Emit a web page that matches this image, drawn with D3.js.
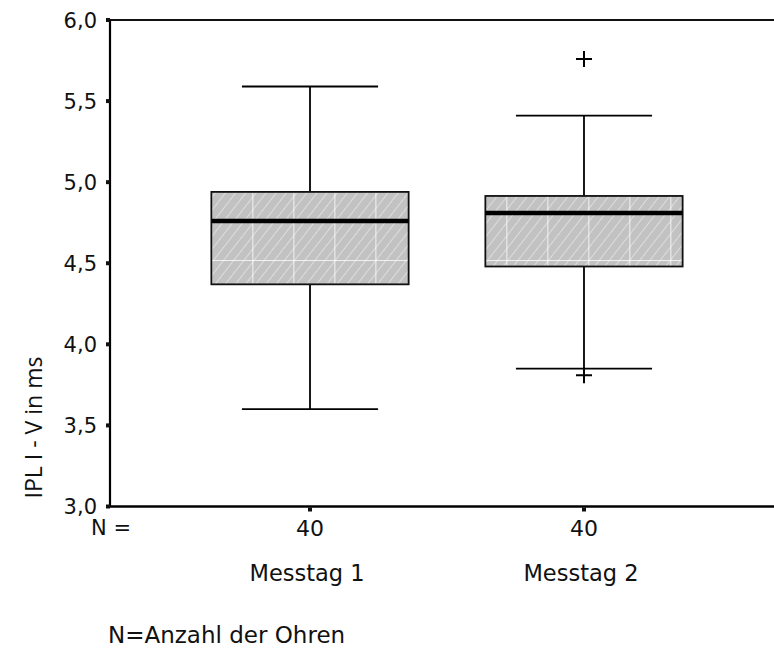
<!DOCTYPE html>
<html>
<head>
<meta charset="utf-8">
<script src="https://cdn.jsdelivr.net/npm/d3@7"></script>
<style>
  html, body { margin: 0; padding: 0; background: #fff; }
  svg { display: block; }
  .lbl { font-family: "DejaVu Sans", sans-serif; fill: #111; }
</style>
</head>
<body>
<svg id="chart" width="774" height="650"></svg>
<script>
// IPL I-V (ms) per measurement day
const categories = ["Messtag 1", "Messtag 2"];
const counts = [40, 40];
const whiskerLow  = [3.60, 3.85];
const q1          = [4.37, 4.48];
const medians     = [4.76, 4.81];
const q3          = [4.94, 4.915];
const whiskerHigh = [5.59, 5.41];
// outliers: [category index, value]
const outliers = [[1, 5.76], [1, 3.81]];
const yTicks = [3.0, 3.5, 4.0, 4.5, 5.0, 5.5, 6.0];
const gridPhase = [41, 21];

const svg = d3.select("#chart");
const W = 774;
const plotL = 110, plotT = 20, plotB = 506.5, plotR = 784;

const y = d3.scaleLinear().domain([3, 6]).range([plotB, plotT]);
const x = d3.scalePoint().domain(categories).range([plotL, plotR]).padding(0.73);
const boxW = x.step() * 0.72;
const capW = boxW * 0.69;
const fmt = v => d3.format(".1f")(v).replace(".", ",");

const defs = svg.append("defs");
// grey fill with fine white diagonal hatching
const hatch = defs.append("pattern")
  .attr("id", "hatch").attr("patternUnits", "userSpaceOnUse")
  .attr("width", 8).attr("height", 8)
  .attr("patternTransform", "rotate(38)");
hatch.append("rect").attr("width", 8).attr("height", 8).attr("fill", "#c2c2c2");
hatch.append("line").attr("x1", 0).attr("y1", 0).attr("x2", 0).attr("y2", 8)
  .attr("stroke", "#ececec").attr("stroke-width", 1.3);

// white grid overlay inside each box
categories.forEach((c, i) => {
  const p = defs.append("pattern")
    .attr("id", "grid" + i).attr("patternUnits", "userSpaceOnUse")
    .attr("width", 41).attr("height", y(5.5) - y(6.0))
    .attr("patternTransform", `translate(${x(c) - boxW / 2 + gridPhase[i]},${y(4.52)})`);
  p.append("line").attr("x1", 0).attr("y1", 0).attr("x2", 0).attr("y2", 200)
    .attr("stroke", "#fff").attr("stroke-width", 1.6);
  p.append("line").attr("x1", 0).attr("y1", 0).attr("x2", 200).attr("y2", 0)
    .attr("stroke", "#fff").attr("stroke-width", 1.6);
});

// frame lines: top, left, bottom
svg.append("line").attr("x1", plotL).attr("x2", W).attr("y1", plotT).attr("y2", plotT)
  .attr("stroke", "#111").attr("stroke-width", 2);
svg.append("line").attr("x1", plotL).attr("x2", W).attr("y1", plotB).attr("y2", plotB)
  .attr("stroke", "#000").attr("stroke-width", 2.6);
svg.append("line").attr("x1", plotL).attr("x2", plotL).attr("y1", plotT).attr("y2", plotB)
  .attr("stroke", "#000").attr("stroke-width", 2.2);

// y axis ticks and labels
const yg = svg.append("g");
yTicks.forEach(t => {
  yg.append("rect").attr("x", plotL - 4).attr("y", y(t) - 2).attr("width", 4).attr("height", 4).attr("fill", "#111");
  yg.append("text").attr("class", "lbl").attr("x", 97).attr("y", y(t) + 7.5)
    .attr("text-anchor", "end").attr("font-size", 21).text(fmt(t));
});

// boxes
categories.forEach((c, i) => {
  const cx = x(c);
  const g = svg.append("g");
  // whiskers
  g.append("line").attr("x1", cx).attr("x2", cx).attr("y1", y(whiskerHigh[i])).attr("y2", y(q3[i]))
    .attr("stroke", "#000").attr("stroke-width", 1.8);
  g.append("line").attr("x1", cx).attr("x2", cx).attr("y1", y(q1[i])).attr("y2", y(whiskerLow[i]))
    .attr("stroke", "#000").attr("stroke-width", 1.8);
  [whiskerHigh[i], whiskerLow[i]].forEach(v => {
    g.append("line").attr("x1", cx - capW / 2).attr("x2", cx + capW / 2).attr("y1", y(v)).attr("y2", y(v))
      .attr("stroke", "#000").attr("stroke-width", 1.8);
  });
  const bx = cx - boxW / 2, by = y(q3[i]), bh = y(q1[i]) - y(q3[i]);
  g.append("rect").attr("x", bx).attr("y", by).attr("width", boxW).attr("height", bh).attr("fill", "url(#hatch)");
  g.append("rect").attr("x", bx).attr("y", by).attr("width", boxW).attr("height", bh).attr("fill", "url(#grid" + i + ")");
  g.append("rect").attr("x", bx).attr("y", by).attr("width", boxW).attr("height", bh)
    .attr("fill", "none").attr("stroke", "#111").attr("stroke-width", 1.8);
  g.append("line").attr("x1", bx).attr("x2", bx + boxW).attr("y1", y(medians[i])).attr("y2", y(medians[i]))
    .attr("stroke", "#000").attr("stroke-width", 4.5);
});

// outlier markers
outliers.forEach(([i, v]) => {
  const cx = x(categories[i]), cy = y(v);
  svg.append("path").attr("d", `M${cx - 8},${cy}H${cx + 8}M${cx},${cy - 8}V${cy + 8}`)
    .attr("stroke", "#000").attr("stroke-width", 2).attr("fill", "none");
});

// x ticks, counts and category labels
svg.append("text").attr("class", "lbl").attr("x", 91).attr("y", 535).attr("font-size", 21).text("N =");
categories.forEach((c, i) => {
  const cx = x(c);
  svg.append("rect").attr("x", cx - 2).attr("y", plotB + 1).attr("width", 4).attr("height", 4).attr("fill", "#111");
  svg.append("text").attr("class", "lbl").attr("x", cx).attr("y", 536).attr("text-anchor", "middle")
    .attr("font-size", 22).text(counts[i]);
  svg.append("text").attr("class", "lbl").attr("x", cx - 3).attr("y", 581).attr("text-anchor", "middle")
    .attr("font-size", 22.5).text(c);
});

// y axis title
svg.append("text").attr("font-family", "'Open Sans', sans-serif").attr("fill", "#111")
  .attr("font-size", 23)
  .attr("transform", `translate(42,${(357 + 498) / 2}) rotate(-90)`)
  .attr("text-anchor", "middle").text("IPL I - V in ms");

// footnote
svg.append("text").attr("class", "lbl").attr("x", 108).attr("y", 643).attr("font-size", 23)
  .text("N=Anzahl der Ohren");
</script>
</body>
</html>
